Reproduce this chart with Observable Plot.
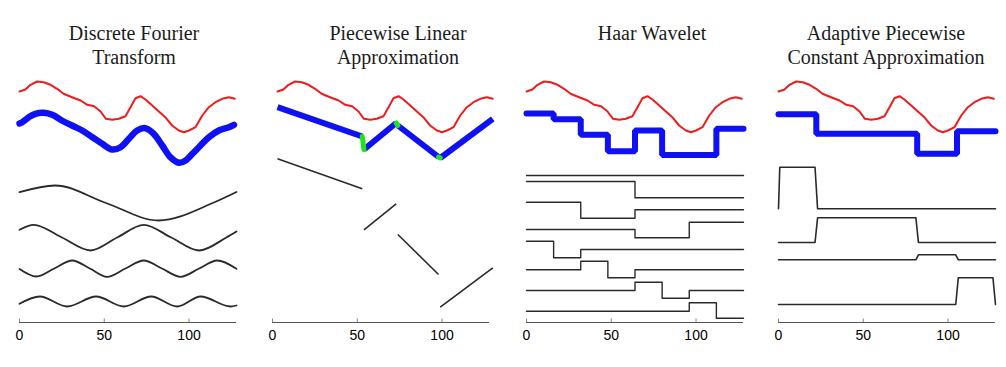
<!DOCTYPE html>
<html><head><meta charset="utf-8">
<script src="https://cdn.jsdelivr.net/npm/d3@7"></script>
<script src="https://cdn.jsdelivr.net/npm/@observablehq/plot@0.6"></script>
<style>
body{margin:0;background:#fff;}
#root{position:relative;width:1006px;height:367px;overflow:hidden;background:#fff;}
.title{position:absolute;font-family:"Liberation Serif","Times New Roman",serif;font-size:20px;line-height:24px;color:#1c1c1c;text-align:center;white-space:nowrap;transform:translateX(-50%);}
</style></head><body><div id="root"></div>
<script>
// ---- shared ----
const xTicks = [0, 50, 100];
const titles = [["Discrete Fourier", "Transform"], ["Piecewise Linear", "Approximation"], ["Haar Wavelet"], ["Adaptive Piecewise", "Constant Approximation"]];
const titleCenters = [134, 398, 652, 886];

// raw time series (red), same in all panels
const rawX = [0,3.5,6.5,10.4,14.3,18.3,22.2,26,31,36,40,44,47.8,51,54.7,58.6,62.5,65.5,68.4,71.4,74.3,78.3,82.2,86,90,94,97,100,103.8,107.8,111.7,115.6,119.6,123.5,127];
const rawV = [231,233,237.7,241,240.3,237.7,233.7,228.7,225.3,222,217.7,216.3,211,203.7,202.7,203.7,206.3,215.3,224.3,226.3,223,217,211,205.3,197,192,190.3,192,195.3,207,215.3,220.3,223.7,225.3,223.7];

// ---- DFT ----
const dftX = [0,1.6,5.5,9.4,14.3,19.3,25,31,37,43,48.8,54.7,59.6,64.5,69.4,74.3,79.2,84.2,89,94,98,102,106.8,111.7,117.6,123.5,126.5];
const dftV = [199,200.3,205.3,208.7,209.7,207.7,202,197,192,185.3,178.7,173,175.3,183.7,192,194.3,188.7,177,165.3,159.7,162,168.7,177,185.3,192,195.3,197.7];
const dft1X = [0,21,51,82,114,128];
const dft1V = [130.3,137,119.5,102,119.5,130.5];
const dft2X = [0,8.4,25,41.9,57.6,73.3,89.5,105.8,122,128];
const dft2V = [92.7,97.7,85,72,85,97.7,85,72,85,91];
const dft3X = [0,10,20.5,31.1,41.5,51.7,62.5,73.3,84,95,106,116.6,128];
const dft3V = [53.5,46,54,62,54,45.7,54,62,54,45.7,54,62,53.7];
const dft4X = [0,12,28.1,45.2,61.5,77.7,93,106.8,124.5,128];
const dft4V = [18.7,26,16,26,16,26,16,26,16,17];

// ---- PLA ----
const plaStart = [0, 51, 71, 96];
const plaEnd = [50, 70, 95, 127];
const plaBlueStart = [215.3, 173, 197, 164.5];
const plaBlueEnd = [186, 199.5, 165.5, 203.7];
const plaBlackStart = [163.7, 92.7, 88, 15.3];
const plaBlackEnd = [133.7, 118.7, 48, 54.7];

// ---- Haar ----
const haarBreaks = [0,16,32,48,64,80,96,112,128];
const haarBlue = [209,203.2,187.8,171.2,192,167.5,167.5,193.7];
const haarRow0 = {breaks: [0,128], vals: [147]};
const haarRow1 = {breaks: [0,64,128], vals: [141,124.7]};
const haarRow2 = {breaks: [0,32,64,128], vals: [120.3,104.3,112.7]};
const haarRow3 = {breaks: [0,64,96,128], vals: [93,84.7,100.3]};
const haarRow4 = {breaks: [0,16,32,128], vals: [81.3,64.7,73]};
const haarRow5 = {breaks: [0,32,48,64,128], vals: [52.7,61.3,44.7,52.7]};
const haarRow6 = {breaks: [0,64,80,96,128], vals: [32,40.3,24.3,32]};
const haarRow7 = {breaks: [0,96,112,128], vals: [11.3,19.7,4.3]};

// ---- APCA ----
const apcaBreaks = [0, 22.3, 81.8, 105.3, 128];
const apcaBlue = [208.3, 188.7, 168.7, 191.3];
const apcaBase = [113.7, 80, 62.7, 18];
const apcaTop = [155.3, 104.7, 67.7, 44.7];

// ---- helpers ----
const zip = (xs, vs) => xs.map((x, i) => ({x, v: vs[i]}));
const steps = (breaks, vals) => breaks.map((b, i) => ({x: b, v: vals[Math.min(i, vals.length - 1)]}));
function pulse(a, b, base, top) {
  const r = 1.5, p = [{x: 0, v: base}];
  if (a > 0) p.push({x: a - r / 2, v: base});
  p.push({x: a + r / 2, v: top});
  if (b < 128) { p.push({x: b - r / 2, v: top}, {x: b + r / 2, v: base}, {x: 128, v: base}); }
  else { p.push({x: 128 - r, v: top}, {x: 128, v: base}); }
  return p;
}
const RED = "#ee1c1c", BLUE = "#1010f4", BLACK = "#2a2a2a";
const root = document.getElementById("root");
const W = 239, H = 301, ML = 10, MR = 12, MT = 4, MB = 45;
const panelX0 = [19, 276.5, 525.7, 778];
const axisShift = [0, -5, 0, 0];

function panel(i, marks) {
  const dx = axisShift[i];
  const svg = Plot.plot({
    width: W, height: H, marginLeft: ML, marginRight: MR, marginTop: MT, marginBottom: MB,
    x: {domain: [0, 128]}, y: {domain: [0, 252], axis: null},
    style: {background: "transparent", overflow: "visible"},
    marks: [
      Plot.ruleY([0], {stroke: "#555", strokeWidth: 1.2, dx}),
      Plot.ruleX(xTicks, {y1: 0, y2: 3.5, stroke: "#888", dx}),
      Plot.axisX(xTicks, {tickSize: 0, tickPadding: 8, fontSize: 14, fontFamily: "Liberation Sans, Arial, sans-serif", fill: "#000", dx, label: null, tickFormat: d => String(d)}),
      Plot.line(zip(rawX, rawV), {x: "x", y: "v", stroke: RED, strokeWidth: 2}),
      ...marks
    ]
  });
  svg.style.position = "absolute";
  svg.style.left = (panelX0[i] - ML) + "px";
  svg.style.top = "66px";
  root.appendChild(svg);
  titles[i].forEach((t, k) => {
    const d = document.createElement("div");
    d.className = "title"; d.textContent = t;
    d.style.left = titleCenters[i] + "px"; d.style.top = (20.6 + 24 * k) + "px";
    root.appendChild(d);
  });
}

// Panel 1: DFT
panel(0, [
  Plot.line(zip(dftX, dftV), {x: "x", y: "v", stroke: BLUE, strokeWidth: 6.5, curve: "catmull-rom", strokeLinecap: "round"}),
  ...[[dft1X, dft1V], [dft2X, dft2V], [dft3X, dft3V], [dft4X, dft4V]].map(([xs, vs]) =>
    Plot.line(zip(xs, vs), {x: "x", y: "v", stroke: BLACK, strokeWidth: 1.8, curve: "monotone-x"}))
]);

// Panel 2: PLA
const plaSegs = plaStart.map((s, i) => ({x1: s, x2: plaEnd[i], b1: plaBlueStart[i], b2: plaBlueEnd[i], k1: plaBlackStart[i], k2: plaBlackEnd[i]}));
const plaJoins = plaSegs.slice(0, -1).map((s, i) => ({x1: s.x2, y1: s.b2, x2: plaSegs[i + 1].x1, y2: plaSegs[i + 1].b1}));
panel(1, [
  Plot.link(plaSegs, {x1: "x1", x2: "x2", y1: "b1", y2: "b2", stroke: BLUE, strokeWidth: 6}),
  Plot.link(plaJoins, {x1: "x1", x2: "x2", y1: "y1", y2: "y2", stroke: "#22e022", strokeWidth: 5, strokeLinecap: "round"}),
  Plot.link(plaSegs, {x1: "x1", x2: "x2", y1: "k1", y2: "k2", stroke: BLACK, strokeWidth: 1.6})
]);

// Panel 3: Haar
panel(2, [
  Plot.line(steps(haarBreaks, haarBlue), {x: "x", y: "v", stroke: BLUE, strokeWidth: 6, curve: "step-after", strokeLinejoin: "miter"}),
  ...[haarRow0, haarRow1, haarRow2, haarRow3, haarRow4, haarRow5, haarRow6, haarRow7].map(r =>
    Plot.line(steps(r.breaks, r.vals), {x: "x", y: "v", stroke: BLACK, strokeWidth: 1.4, curve: "step-after"}))
]);

// Panel 4: APCA
panel(3, [
  Plot.line(steps(apcaBreaks, apcaBlue), {x: "x", y: "v", stroke: BLUE, strokeWidth: 6, curve: "step-after", strokeLinejoin: "miter"}),
  ...apcaBase.map((b, i) =>
    Plot.line(pulse(apcaBreaks[i], apcaBreaks[i + 1], b, apcaTop[i]), {x: "x", y: "v", stroke: BLACK, strokeWidth: 1.6}))
]);
</script></body></html>
